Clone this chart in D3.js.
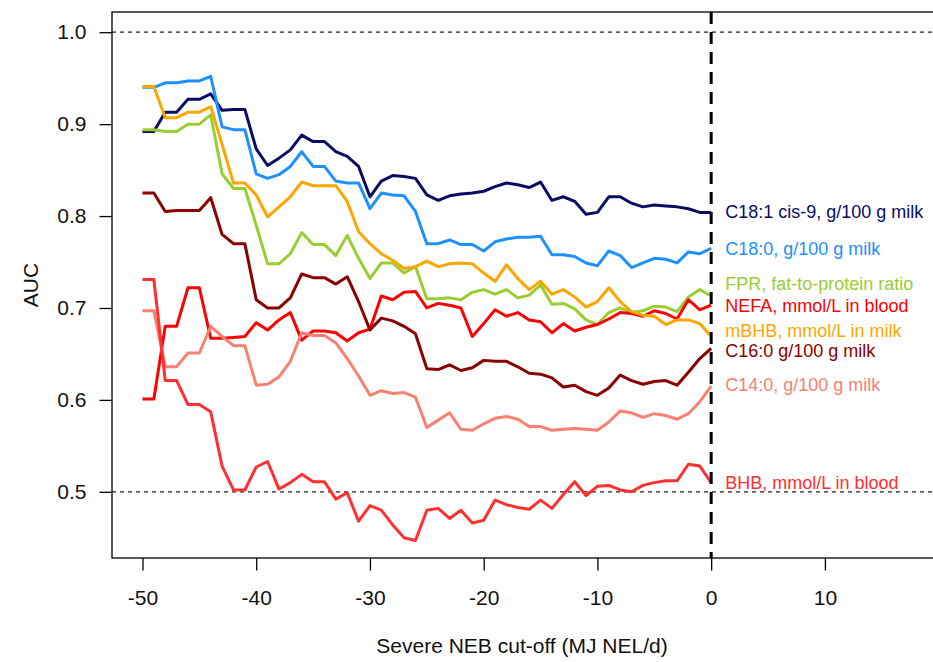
<!DOCTYPE html>
<html>
<head>
<meta charset="utf-8">
<script src="https://cdn.jsdelivr.net/npm/d3@7"></script>
<style>
  body { margin: 0; background: #fff; }
  svg text { font-family: "Liberation Sans", Arial, Helvetica, sans-serif; }
</style>
</head>
<body>
<svg id="chart" width="933" height="662"></svg>
<script>
// cut-off values (MJ NEL/d)
const cutoffs = [-50,-49,-48,-47,-46,-45,-44,-43,-42,-41,-40,-39,-38,-37,-36,-35,-34,-33,-32,-31,
  -30,-29,-28,-27,-26,-25,-24,-23,-22,-21,-20,-19,-18,-17,-16,-15,-14,-13,-12,-11,-10,-9,-8,-7,-6,-5,-4,-3,-2,-1,0];

// AUC per trait
const c181 = [0.892,0.892,0.913,0.913,0.927,0.927,0.933,0.915,0.916,0.916,
  0.873,0.855,0.863,0.872,0.888,0.881,0.881,0.870,0.865,0.854,
  0.821,0.838,0.844,0.843,0.841,0.823,0.817,0.822,0.824,0.825,
  0.827,0.832,0.836,0.834,0.831,0.837,0.817,0.821,0.816,0.802,
  0.804,0.821,0.821,0.814,0.810,0.812,0.811,0.810,0.808,0.804,0.804];
const c180 = [0.940,0.940,0.945,0.945,0.947,0.947,0.952,0.897,0.894,0.894,
  0.846,0.841,0.845,0.854,0.870,0.854,0.854,0.838,0.836,0.836,
  0.808,0.825,0.823,0.822,0.805,0.770,0.770,0.774,0.769,0.769,
  0.762,0.772,0.775,0.777,0.777,0.778,0.758,0.758,0.756,0.749,
  0.746,0.762,0.757,0.744,0.749,0.754,0.753,0.749,0.761,0.759,0.765];
const fpr = [0.894,0.894,0.892,0.892,0.900,0.900,0.910,0.846,0.830,0.830,
  0.790,0.748,0.748,0.759,0.782,0.769,0.769,0.757,0.779,0.754,
  0.732,0.749,0.749,0.738,0.745,0.710,0.710,0.711,0.709,0.717,
  0.720,0.715,0.720,0.711,0.714,0.725,0.704,0.705,0.699,0.687,
  0.682,0.695,0.700,0.695,0.697,0.702,0.701,0.696,0.712,0.720,0.713];
const nefa = [0.601,0.601,0.680,0.680,0.722,0.722,0.667,0.667,0.668,0.669,
  0.684,0.676,0.687,0.695,0.665,0.675,0.675,0.673,0.664,0.673,
  0.677,0.713,0.709,0.717,0.718,0.700,0.705,0.703,0.700,0.669,
  0.683,0.698,0.691,0.695,0.687,0.685,0.673,0.683,0.675,0.679,
  0.682,0.688,0.695,0.694,0.691,0.697,0.694,0.688,0.709,0.698,0.703];
const mbhb = [0.941,0.941,0.907,0.907,0.913,0.913,0.919,0.878,0.836,0.836,
  0.823,0.799,0.810,0.821,0.837,0.833,0.833,0.833,0.816,0.783,
  0.770,0.759,0.752,0.743,0.745,0.751,0.745,0.748,0.749,0.748,
  0.738,0.729,0.747,0.732,0.720,0.729,0.715,0.720,0.712,0.701,
  0.707,0.722,0.707,0.696,0.692,0.691,0.682,0.687,0.687,0.683,0.669];
const c160 = [0.825,0.825,0.805,0.806,0.806,0.806,0.820,0.780,0.770,0.770,
  0.709,0.700,0.700,0.711,0.737,0.733,0.733,0.726,0.734,0.707,
  0.676,0.689,0.686,0.680,0.672,0.634,0.633,0.638,0.632,0.635,
  0.643,0.642,0.642,0.636,0.629,0.628,0.624,0.614,0.616,0.609,
  0.605,0.613,0.627,0.621,0.617,0.620,0.621,0.616,0.630,0.645,0.656];
const c140 = [0.697,0.697,0.636,0.636,0.651,0.651,0.680,0.669,0.659,0.659,
  0.616,0.617,0.625,0.642,0.673,0.670,0.670,0.662,0.645,0.626,
  0.605,0.610,0.607,0.608,0.603,0.570,0.578,0.586,0.568,0.567,
  0.574,0.580,0.582,0.579,0.571,0.571,0.567,0.568,0.569,0.568,
  0.567,0.576,0.588,0.586,0.581,0.585,0.583,0.579,0.585,0.598,0.615];
const bhb = [0.731,0.731,0.621,0.621,0.595,0.595,0.587,0.528,0.502,0.502,
  0.527,0.533,0.503,0.510,0.519,0.511,0.511,0.492,0.499,0.468,
  0.485,0.480,0.464,0.450,0.447,0.480,0.482,0.471,0.480,0.466,
  0.469,0.491,0.486,0.483,0.481,0.491,0.482,0.497,0.511,0.496,
  0.506,0.507,0.502,0.500,0.507,0.510,0.512,0.512,0.530,0.528,0.510];

const seriesNames = ["C18:1 cis-9, g/100 g milk", "C18:0, g/100 g milk", "FPR, fat-to-protein ratio",
  "NEFA, mmol/L in blood", "mBHB, mmol/L in milk", "C16:0 g/100 g milk", "C14:0, g/100 g milk", "BHB, mmol/L in blood"];
const seriesValues = [c181, c180, fpr, nefa, mbhb, c160, c140, bhb];
const seriesColors = ["#0b0b66", "#1e90ff", "#9acd32", "#ff0000", "#ffa500", "#8b0000", "#fa8072", "#ff3030"];
// where each label sits, in AUC units
const labelAt = [0.805, 0.765, 0.726, 0.702, 0.675, 0.654, 0.616, 0.510];

const xTicks = [-50, -40, -30, -20, -10, 0, 10];
const yTicks = [0.5, 0.6, 0.7, 0.8, 0.9, 1.0];
const refLines = [0.5, 1.0];

const svg = d3.select("#chart");
const plot = { left: 112, right: 935, top: 12, bottom: 558 };

const x = d3.scaleLinear().domain([-52.68, 19.68]).range([plot.left, plot.right]);
const y = d3.scaleLinear().domain([0.428, 1.022]).range([plot.bottom, plot.top]);

// reference lines
svg.selectAll("line.ref")
  .data(refLines)
  .enter().append("line")
  .attr("class", "ref")
  .attr("x1", plot.left).attr("x2", plot.right)
  .attr("y1", d => y(d)).attr("y2", d => y(d))
  .attr("stroke", "#222").attr("stroke-width", 1.2)
  .attr("stroke-dasharray", "4,4");

// series lines
const line = d3.line()
  .x((d, i) => x(cutoffs[i]))
  .y(d => y(d));

svg.selectAll("path.series")
  .data(seriesValues)
  .enter().append("path")
  .attr("class", "series")
  .attr("d", d => line(d))
  .attr("fill", "none")
  .attr("stroke", (d, i) => seriesColors[i])
  .attr("stroke-width", 3)
  .attr("stroke-linejoin", "round");

// cut-off 0 marker
svg.append("line")
  .attr("x1", x(0)).attr("x2", x(0))
  .attr("y1", plot.top).attr("y2", plot.bottom)
  .attr("stroke", "#000").attr("stroke-width", 3)
  .attr("stroke-dasharray", "12,8");

// labels on the right
svg.selectAll("text.lab")
  .data(seriesNames)
  .enter().append("text")
  .attr("class", "lab")
  .attr("x", x(0) + 14)
  .attr("y", (d, i) => y(labelAt[i]))
  .attr("dy", "0.35em")
  .attr("font-size", 18)
  .attr("fill", (d, i) => seriesColors[i])
  .text(d => d);

// frame
svg.append("rect")
  .attr("x", plot.left).attr("y", plot.top)
  .attr("width", plot.right - plot.left).attr("height", plot.bottom - plot.top)
  .attr("fill", "none").attr("stroke", "#000").attr("stroke-width", 1.3);

// axes
const yAxis = svg.append("g")
  .attr("transform", `translate(${plot.left},0)`)
  .call(d3.axisLeft(y).tickValues(yTicks).tickFormat(d3.format(".1f")).tickSize(12.5).tickPadding(13));
const xAxis = svg.append("g")
  .attr("transform", `translate(0,${plot.bottom})`)
  .call(d3.axisBottom(x).tickValues(xTicks).tickFormat(d => String(d)).tickSize(12.5).tickPadding(20));

[xAxis, yAxis].forEach(g => {
  g.select(".domain").remove();
  g.selectAll(".tick line").attr("stroke", "#000").attr("stroke-width", 1.3);
  g.selectAll(".tick text")
    .attr("font-size", 21)
    .attr("font-family", '"Liberation Sans", Arial, sans-serif')
    .attr("fill", "#111");
});

// axis titles
svg.append("text")
  .attr("x", (plot.left + 932) / 2)
  .attr("y", 653)
  .attr("text-anchor", "middle")
  .attr("font-size", 21)
  .attr("fill", "#111")
  .text("Severe NEB cut-off (MJ NEL/d)");

svg.append("text")
  .attr("transform", `translate(38,${(plot.top + plot.bottom) / 2}) rotate(-90)`)
  .attr("text-anchor", "middle")
  .attr("font-size", 21)
  .attr("fill", "#111")
  .text("AUC");
</script>
</body>
</html>
